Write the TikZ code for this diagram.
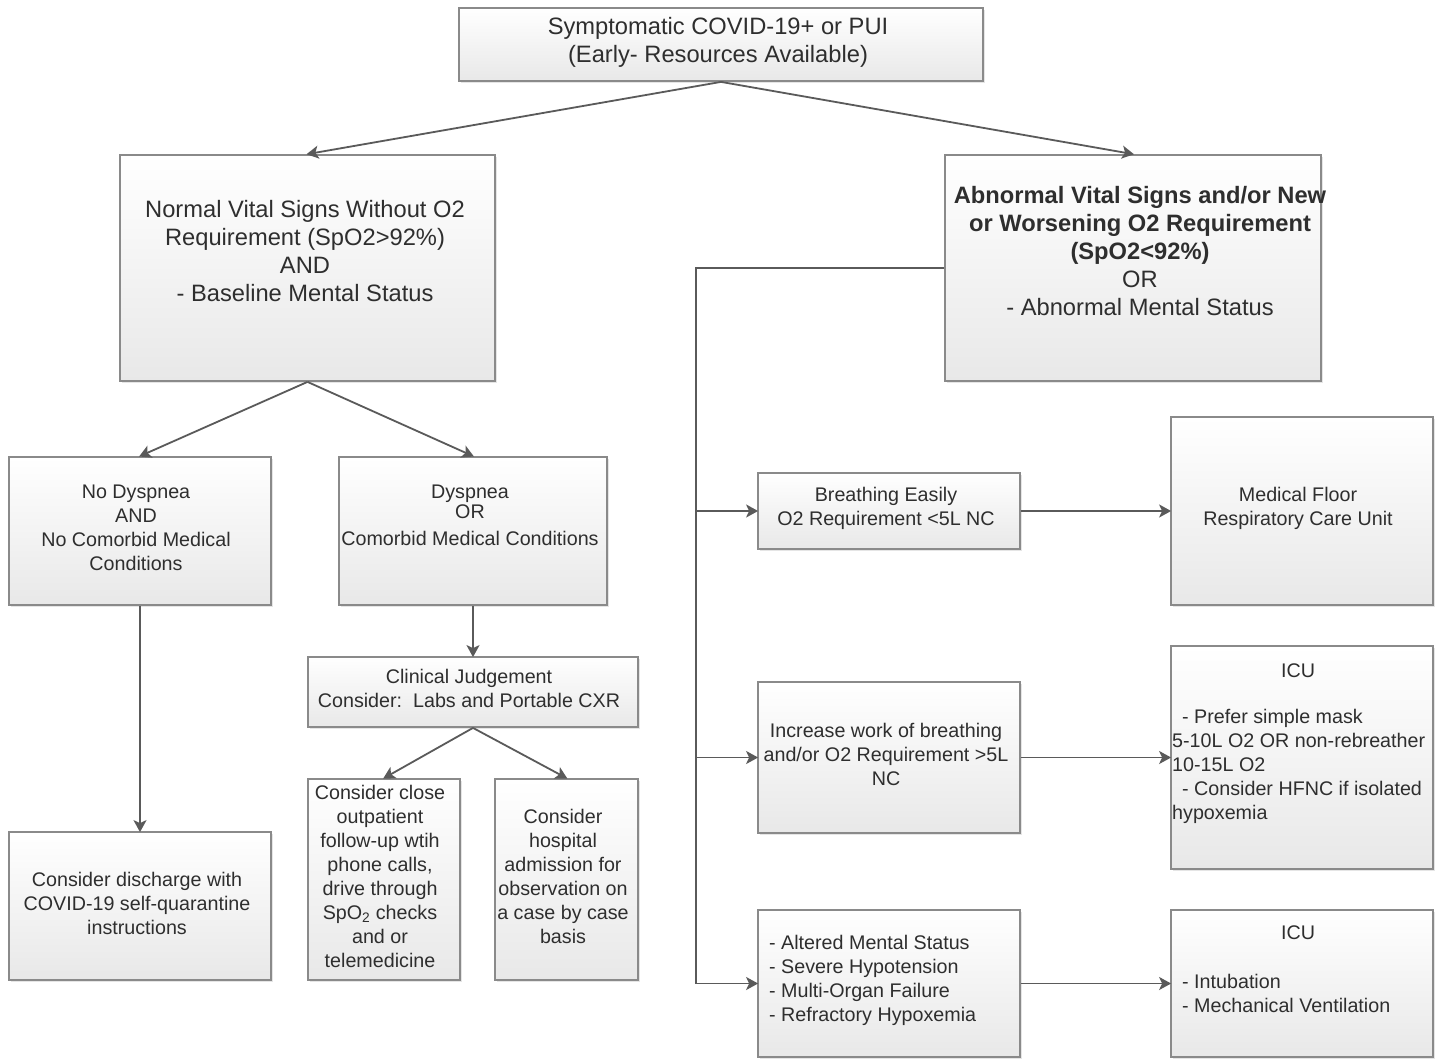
\documentclass[tikz,border=0pt]{standalone}
\usepackage{fontspec}
\setmainfont{Liberation Sans}
\usetikzlibrary{arrows.meta,shadows}
\definecolor{edgegray}{HTML}{8A8A8A}
\definecolor{linegray}{HTML}{5A5A5A}
\definecolor{txtgray}{HTML}{2E2E2E}
\newcommand{\bigtxt}{\fontsize{23.7}{28}\selectfont}
\newcommand{\midtxt}{\fontsize{19.7}{24}\selectfont}
\newcommand{\mybox}[5]{\node[fbox, minimum width={#4-#2}, minimum height={#5-#3}] (#1) at ({(#2+#4)/2},{(#3+#5)/2}) {};}
\tikzset{
  fbox/.style={draw=edgegray, line width=1.8pt, top color=white, bottom color=black!9, inner sep=0pt,
    drop shadow={shadow xshift=2pt, shadow yshift=-2pt, opacity=0.25, fill=black!40}},
  txt/.style={text=txtgray, align=center, inner sep=0pt},
  ltxt/.style={text=txtgray, align=left, inner sep=0pt, anchor=west},
  conn/.style={draw=linegray, line width=1.8pt},
  arr/.style={conn, -{Stealth[length=12pt,width=13pt,inset=3pt]}, shorten >=-1pt}
}
\begin{document}
\begin{tikzpicture}[x=1pt,y=-1pt]
\useasboundingbox[fill=white] (0,0) rectangle (1442,1059);
% boxes
\mybox{top}{459}{8}{983}{81}
\mybox{N}{120}{155}{495}{381}
\mybox{A}{945}{155}{1321}{381}
\mybox{ND}{9}{457}{271}{605}
\mybox{D}{339}{457}{607}{605}
\mybox{CJ}{308}{657}{638}{727}
\mybox{CO}{308}{779}{460}{980}
\mybox{CH}{495}{779}{638}{980}
\mybox{DC}{9}{832}{271}{980}
\mybox{BE}{758}{473}{1020}{549}
\mybox{MF}{1171}{417}{1433}{605}
\mybox{IW}{758}{682}{1020}{833}
\mybox{ICUa}{1171}{646}{1433}{869}
\mybox{AM}{758}{910}{1020}{1057}
\mybox{ICUb}{1171}{910}{1433}{1057}
% texts
\node[txt, font=\bigtxt] (ttop) at (718,42) {Symptomatic COVID-19+ or PUI\\(Early- Resources Available)};
\node[txt, font=\bigtxt] (tN) at (305,251) {Normal Vital Signs Without O2\\Requirement (SpO2>92\%)\\AND\\- Baseline Mental Status};
\node[txt, font=\bigtxt] (tA) at (1140,251.5) {\textbf{Abnormal Vital Signs and/or New}\\\textbf{or Worsening O2 Requirement}\\\textbf{(SpO2<92\%)}\\OR\\- Abnormal Mental Status};
\node[txt, font=\midtxt] (tND) at (136,527.5) {No Dyspnea\\AND\\No Comorbid Medical\\Conditions};
\node[txt, font=\midtxt] (tD) at (470,515.5) {Dyspnea\\[-4pt]OR\\[3pt]Comorbid Medical Conditions};
\node[txt, font=\midtxt] (tCJ) at (469,688.5) {Clinical Judgement\\Consider:\ \ Labs and Portable CXR};
\node[txt, font=\midtxt] (tCO) at (380,876.5) {Consider close\\outpatient\\follow-up wtih\\phone calls,\\drive through\\SpO\textsubscript{2} checks\\and or\\telemedicine};
\node[txt, font=\midtxt] (tCH) at (563,876.5) {Consider\\hospital\\admission for\\observation on\\a case by case\\basis};
\node[txt, font=\midtxt] (tDC) at (137,903) {Consider discharge with\\COVID-19 self-quarantine\\instructions};
\node[txt, font=\midtxt] (tBE) at (886,508.5) {Breathing Easily\\O2 Requirement <5L NC};
\node[txt, font=\midtxt] (tMF) at (1298,508) {Medical Floor\\Respiratory Care Unit};
\node[txt, font=\midtxt] (tIW) at (886,754.5) {Increase work of breathing\\and/or O2 Requirement >5L\\NC};
\node[txt, font=\midtxt] (tICUa) at (1298,671) {ICU};
\node[ltxt, font=\midtxt] (tICUa2) at (1172,766) {\hspace*{10pt}- Prefer simple mask\\5-10L O2 OR non-rebreather\\10-15L O2\\\hspace*{10pt}- Consider HFNC if isolated\\hypoxemia};
\node[txt, font=\midtxt] (tICUb) at (1298,933) {ICU};
\node[ltxt, font=\midtxt] (tICUb2) at (1182,993) {- Intubation\\- Mechanical Ventilation};
\node[ltxt, font=\midtxt] (tAM) at (769,980) {- Altered Mental Status\\- Severe Hypotension\\- Multi-Organ Failure\\- Refractory Hypoxemia};
% connectors
\draw[arr] (top.south) -- (N.north);
\draw[arr] (top.south) -- (A.north);
\draw[arr] (N.south) -- (ND.north);
\draw[arr] (N.south) -- (D.north);
\draw[arr] (ND.south) -- (DC.north);
\draw[arr] (D.south) -- (CJ.north);
\draw[arr] (CJ.south) -- (CO.north);
\draw[arr] (CJ.south) -- (CH.north);
\coordinate (bus) at (696,268);
\draw[conn] (A.west) -- (bus) -- (bus |- AM.west);
\draw[arr] (bus |- BE.west) -- (BE.west);
\draw[arr] (bus |- IW.west) -- (IW.west);
\draw[arr] (bus |- AM.west) -- (AM.west);
\draw[arr] (BE.east) -- (BE.east -| MF.west);
\draw[arr] (IW.east) -- (IW.east -| ICUa.west);
\draw[arr] (AM.east) -- (AM.east -| ICUb.west);
\end{tikzpicture}
\end{document}
